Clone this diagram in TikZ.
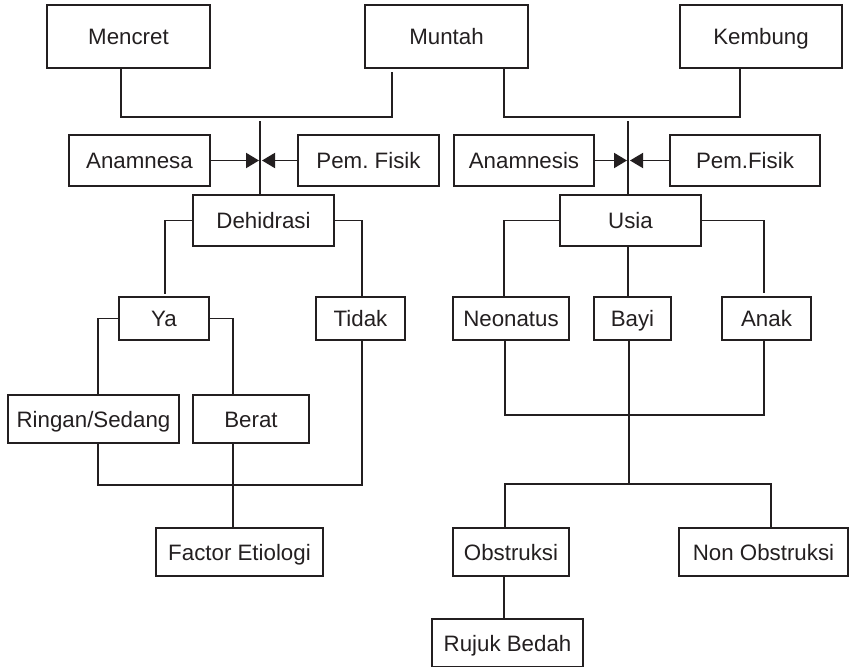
\documentclass[tikz,border=0pt]{standalone}
\usepackage{fontspec}
\setmainfont{Liberation Sans}
\usetikzlibrary{arrows.meta}
\definecolor{ink}{HTML}{231F20}
\frenchspacing
\begin{document}
\begin{tikzpicture}[x=1pt,y=-1pt,
  box/.style={draw=ink, line width=1.9pt, rectangle, inner sep=0pt, outer sep=0pt,
              text=ink, text height=16pt, text depth=0pt,
              font=\fontsize{22.3}{26}\selectfont},
  link/.style={draw=ink, line width=1.9pt},
  feed/.style={link, -{Triangle[length=13pt,width=15pt]}}]
\useasboundingbox (0,0) rectangle (850,666);

% top row
\node[box, minimum width=163pt, minimum height=63pt] (mencret) at (128.5,36.5) {Mencret};
\node[box, minimum width=163pt, minimum height=63pt] (muntah)  at (446.5,36.5) {Muntah};
\node[box, minimum width=162pt, minimum height=63pt] (kembung) at (761,36.5)   {Kembung};

% examination inputs
\node[box, minimum width=141pt, minimum height=51pt] (anamnesa)  at (139.5,160.5) {Anamnesa};
\node[box, minimum width=141pt, minimum height=51pt] (pemfisikA) at (368.5,160.5) {Pem. Fisik};
\node[box, minimum width=140pt, minimum height=51pt] (anamnesis) at (524,160.5)   {Anamnesis};
\node[box, minimum width=150pt, minimum height=51pt] (pemfisikB) at (745,160.5)   {Pem.Fisik};

% second level
\node[box, minimum width=141pt, minimum height=51pt] (dehidrasi) at (263.5,220.5) {Dehidrasi};
\node[box, minimum width=141pt, minimum height=51pt] (usia)      at (630.5,220.5) {Usia};

% left branch
\node[box, minimum width=90pt,  minimum height=43pt] (ya)     at (164,318.5)   {Ya};
\node[box, minimum width=89pt,  minimum height=43pt] (tidak)  at (360.5,318.5) {Tidak};
\node[box, minimum width=171pt, minimum height=48pt] (ringan) at (93.5,419)    {Ringan/Sedang};
\node[box, minimum width=116pt, minimum height=48pt] (berat)  at (251,419)     {Berat};
\node[box, minimum width=167pt, minimum height=48pt] (factor) at (239.5,552)   {Factor Etiologi\hspace{10pt}};

% right branch
\node[box, minimum width=116pt, minimum height=43pt] (neonatus)  at (511,318.5)   {Neonatus};
\node[box, minimum width=77pt,  minimum height=43pt] (bayi)      at (632.5,318.5) {Bayi};
\node[box, minimum width=89pt,  minimum height=43pt] (anak)      at (766.5,318.5) {Anak};
\node[box, minimum width=116pt, minimum height=48pt] (obstruksi) at (511,552)     {Obstruksi};
\node[box, minimum width=169pt, minimum height=48pt] (nonobs)    at (763.5,552)   {Non Obstruksi};
\node[box, minimum width=151pt, minimum height=48pt] (rujuk)     at (507.5,643)   {Rujuk Bedah};

% junction points
\coordinate (m1) at (121,117);
\coordinate (m2) at (392,117);
\coordinate (c1) at (260,121);
\coordinate (r1) at (504,117);
\coordinate (r2) at (740,117);
\coordinate (c2) at (628,121);
\coordinate (fj) at (233,485);
\coordinate (uj) at (629,415);
\coordinate (oj) at (629,484);

% left tree
\draw[link] (mencret.south -| m1) -- (m1) -- (m2) -- ([yshift=-4pt]muntah.south -| m2);
\draw[link] (c1) -- (c1 |- dehidrasi.north);
\draw[feed] (anamnesa.east) -- ([xshift=-1pt]anamnesa.east -| c1);
\draw[feed] (pemfisikA.west) -- ([xshift=2pt]pemfisikA.west -| c1);
\draw[link] (dehidrasi.west) -| ([xshift=1pt,yshift=3pt]ya.north);
\draw[link] (dehidrasi.east) -| ([xshift=1.5pt]tidak.north);
\draw[link] (ya.west) -| ([xshift=4.5pt]ringan.north);
\draw[link] (ya.east) -| ([xshift=-18pt]berat.north);
\draw[link] ([xshift=4.5pt]ringan.south) |- (fj) -| ([xshift=1.5pt]tidak.south);
\draw[link] ([xshift=-18pt]berat.south) -- (fj) -- (fj |- factor.north);

% right tree
\draw[link] (muntah.south -| r1) -- (r1) -- (r2) -- (kembung.south -| r2);
\draw[link] (c2) -- (c2 |- usia.north);
\draw[feed] (anamnesis.east) -- ([xshift=-1pt]anamnesis.east -| c2);
\draw[feed] (pemfisikB.west) -- ([xshift=2pt]pemfisikB.west -| c2);
\draw[link] (usia.west) -| ([xshift=-7pt]neonatus.north);
\draw[link] (usia.east) -| ([xshift=-2.5pt,yshift=4pt]anak.north);
\draw[link] (usia.south -| c2) -- (bayi.north -| c2);
\draw[link] ([xshift=-6pt]neonatus.south) |- (uj) -| ([xshift=-2.5pt]anak.south);
\draw[link] (bayi.south -| oj) -- (oj);
\draw[link] ([xshift=-6pt]obstruksi.north) |- (oj) -| ([xshift=7.5pt]nonobs.north);
\draw[link] ([xshift=-7pt]obstruksi.south) -- ([xshift=-7pt]obstruksi.south |- rujuk.north);
\end{tikzpicture}
\end{document}
